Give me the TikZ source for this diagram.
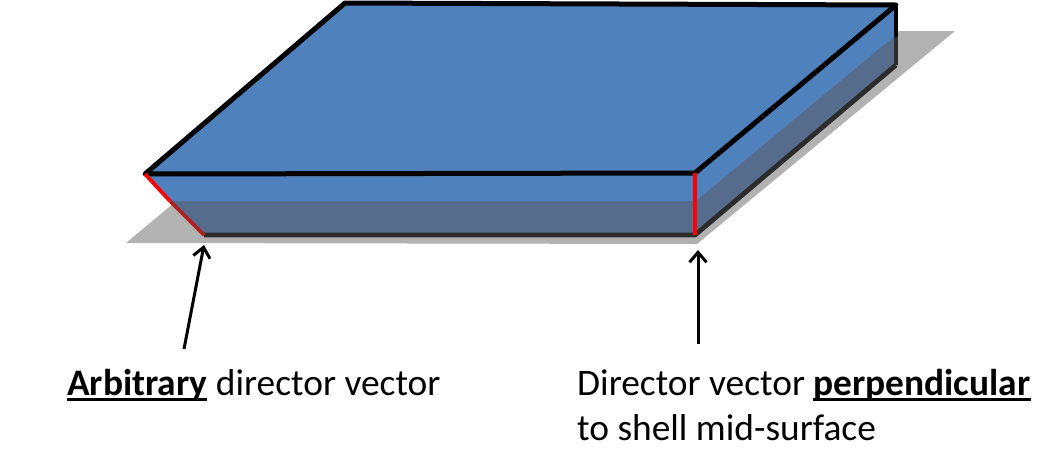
\documentclass[tikz,border=0pt]{standalone}
\usepackage{fontspec}
\setmainfont{Carlito}
\usetikzlibrary{arrows.meta}
\definecolor{blockblue}{HTML}{4F81BD}
\definecolor{blockdark}{HTML}{566C8C}
\definecolor{shadowgray}{HTML}{B2B2B2}
\definecolor{darkedge}{HTML}{2C2C2C}
\definecolor{darkred}{HTML}{B02020}
\newlength\ulw
\newcommand\thickul[1]{\settowidth\ulw{#1}\rlap{\rule[-5.5pt]{\ulw}{2.6pt}}#1}
\tikzset{
  face/.style={fill=blockblue,draw=none},
  darkface/.style={fill=blockdark,draw=none},
  topedge/.style={draw=black,line width=5pt,line join=round,line cap=round},
  lowedge/.style={draw=darkedge,line width=4.8pt,line join=round},
  rededge/.style={draw=red,line width=4.6pt},
  pointer/.style={draw=black,line width=3pt,-{Straight Barb[length=10pt,width=17pt,line width=3pt]}},
  caption/.style={font=\fontsize{37.4}{44}\selectfont,anchor=west,inner sep=0pt,align=left}
}
\begin{document}
\begin{tikzpicture}[x=1pt,y=-1pt]
\useasboundingbox (0,0) rectangle (1055,459);
% shadow
\fill[shadowgray] (126,243) -- (697,244) -- (955,31) -- (380,31) -- cycle;
% block faces
\fill[face] (145,174) -- (204,235) -- (695,235) -- (695,173) -- cycle;
\fill[face] (145,174) -- (345,3) -- (896,5) -- (695,173) -- cycle;
\fill[face] (695,173) -- (896,5) -- (896,65) -- (695,235) -- cycle;
% darkened lower band
\fill[darkface] (170,201) -- (696,201) -- (896,35) -- (896,65) -- (695,235) -- (204,235) -- cycle;
% named corners
\coordinate (tl) at (145,174);
\coordinate (tb) at (345,3);
\coordinate (tr) at (896,5);
\coordinate (tf) at (695,173);
\coordinate (bl) at (204,235);
\coordinate (bf) at (695,235);
\coordinate (br) at (896,65);
\coordinate (mr) at (896,35);
\coordinate (ml) at (170,201);
% edges
\draw[lowedge] (bl) -- (bf) -- (br);
\draw[draw=darkedge,line width=4.8pt] (mr) -- (br);
\draw[topedge] (tl) -- (tb) -- (tr) -- (tf) -- cycle;
\draw[draw=black,line width=4.8pt,line cap=round] (tr) -- (mr);
\draw[rededge] (tf) -- (bf);
\draw[draw=red,line width=3.8pt] (tl) -- (ml);
\draw[draw=darkred,line width=3.8pt] (ml) -- (bl);
% captions
\node[caption] (cap1) at (67,385) {\textbf{\thickul{Arbitrary}} director vector};
\node[caption] (cap2) at (577,385) {Director vector \textbf{\thickul{perpendicular}}};
\node[caption] (cap3) at (577,428) {to shell mid-surface};
% arrows
\coordinate (a1s) at (184,349);
\coordinate (a1e) at (204,245);
\coordinate (a2s) at (698,344);
\coordinate (a2e) at (698,250);
\draw[pointer] (a1s) -- (a1e);
\draw[pointer] (a2s) -- (a2e);
\end{tikzpicture}
\end{document}
